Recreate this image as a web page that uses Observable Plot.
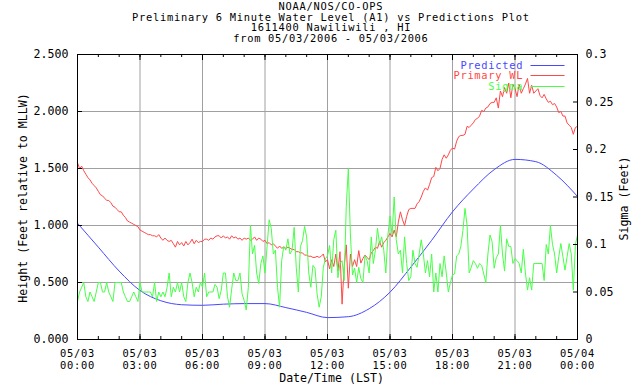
<!DOCTYPE html>
<html><head><meta charset="utf-8">
<script src="https://cdn.jsdelivr.net/npm/d3@7"></script>
<script src="https://cdn.jsdelivr.net/npm/@observablehq/plot@0.6"></script>
<style>body{margin:0;background:#fff}</style>
</head><body><div id="chart"></div>
<script>
const titleLines = ["NOAA/NOS/CO-OPS", "Preliminary 6 Minute Water Level (A1) vs Predictions Plot", "1611400 Nawiliwili , HI", "from 05/03/2006 - 05/03/2006"];
const yLabel = "Height (Feet relative to MLLW)";
const y2Label = "Sigma (Feet)";
const xLabel = "Date/Time (LST)";
const legendLabels = ["Predicted", "Primary WL", "Sigma"];
const legendColors = ["#4848ff", "#ff4848", "#48ff48"];

const heightTicks = [0, 0.5, 1, 1.5, 2, 2.5];
const sigmaTicks = [0, 0.05, 0.1, 0.15, 0.2, 0.25, 0.3];
const sigmaTickLabels = ["0", "0.05", "0.1", "0.15", "0.2", "0.25", "0.3"];
const xTickHours = [0, 3, 6, 9, 12, 15, 18, 21, 24];
const xMinorHours = [0,1,2,3,4,5,6,7,8,9,10,11,12,13,14,15,16,17,18,19,20,21,22,23,24];

// Predicted (hourly)
const predHours = [0,1,2,3,4,5,6,7,8,9,10,11,12,13,14,15,16,17,18,19,20,21,22,23,24];
const predicted = [1.02,0.81,0.60,0.43,0.34,0.305,0.30,0.31,0.315,0.315,0.28,0.238,0.192,0.20,0.27,0.415,0.635,0.87,1.12,1.32,1.49,1.58,1.56,1.44,1.255];

// Primary WL, 6-minute samples from 00:00 to 24:00
const waterLevel = [
1.55,1.50,1.52,1.48,1.45,1.42,1.40,1.37,1.35,1.33,
1.30,1.27,1.26,1.24,1.22,1.22,1.20,1.17,1.16,1.14,
1.12,1.12,1.09,1.07,1.04,1.03,1.02,1.01,1.00,0.99,
0.96,0.95,0.94,0.93,0.92,0.92,0.91,0.91,0.90,0.92,
0.89,0.87,0.89,0.87,0.86,0.87,0.84,0.81,0.86,0.83,
0.85,0.82,0.86,0.83,0.85,0.88,0.84,0.87,0.85,0.86,
0.86,
0.88,0.88,0.87,0.89,0.88,0.90,0.91,0.91,0.89,0.91,
0.89,0.90,0.88,0.91,0.89,0.90,0.88,0.89,0.87,0.89,
0.88,0.89,0.87,0.88,0.90,0.87,0.89,0.88,0.86,0.87,
0.84,0.85,0.83,0.84,0.82,0.80,0.82,0.80,0.81,0.80,
0.81,0.80,0.79,0.79,0.77,0.77,0.76,0.76,0.74,0.74,
0.73,0.73,0.72,0.72,0.73,0.72,0.73,0.75,0.68,0.70,
0.62,0.70,0.64,0.75,0.60,0.77,0.31,0.64,0.83,0.45,
0.75,0.64,0.70,0.64,0.78,0.67,0.71,0.74,0.72,0.70,
0.76,0.78,0.81,0.80,0.86,0.81,0.85,0.87,0.90,0.93,
0.90,0.96,0.90,1.03,1.12,1.05,1.00,1.08,1.14,1.15,
1.15,1.15,1.19,1.21,1.25,1.30,1.33,1.31,1.36,1.42,
1.43,1.51,1.48,1.50,1.58,1.62,1.59,1.62,1.66,1.68,
1.67,1.74,1.78,1.79,1.79,1.80,1.87,1.86,1.88,1.90,
1.93,1.94,1.96,2.01,2.00,2.03,2.04,2.07,2.08,2.08,
2.12,2.03,2.18,2.13,2.21,2.16,2.25,2.12,2.24,2.20,
2.13,2.24,2.16,2.20,2.24,2.29,2.16,2.23,2.16,2.18,
2.20,2.14,2.12,2.15,2.11,2.08,2.09,2.06,2.07,2.04,
1.99,2.00,1.96,1.96,1.90,1.88,1.86,1.80,1.86,1.87
];

// Sigma, 6-minute samples
const sigma = [
0.040,0.050,0.055,0.060,0.045,0.040,0.050,0.045,0.040,0.050,
0.060,0.060,0.050,0.050,0.060,0.050,0.045,0.040,0.060,0.060,
0.060,0.060,0.050,0.045,0.040,0.040,0.045,0.050,0.045,0.040,
0.060,0.050,0.050,0.050,0.050,0.050,0.045,0.060,0.040,0.050,
0.045,0.050,0.045,0.055,0.070,0.045,0.055,0.050,0.060,0.050,
0.060,0.045,0.040,0.060,0.070,0.060,0.045,0.055,0.050,0.060,
0.055,
0.070,0.045,0.050,0.050,0.050,0.058,0.055,0.043,0.052,0.070,
0.070,0.045,0.034,0.053,0.070,0.062,0.062,0.070,0.048,0.041,
0.031,0.055,0.120,0.090,0.099,0.070,0.059,0.080,0.088,0.070,
0.098,0.126,0.117,0.090,0.094,0.055,0.034,0.083,0.098,0.094,
0.106,0.090,0.094,0.118,0.076,0.050,0.098,0.104,0.119,0.108,
0.070,0.055,0.078,0.075,0.048,0.034,0.045,0.076,0.085,0.088,
0.099,0.070,0.105,0.115,0.065,0.080,0.083,0.062,0.140,0.180,
0.110,0.068,0.075,0.060,0.076,0.064,0.060,0.088,0.083,0.070,
0.108,0.080,0.094,0.117,0.100,0.108,0.094,0.070,0.110,0.130,
0.110,0.150,0.105,0.090,0.094,0.070,0.108,0.080,0.062,0.066,
0.094,0.080,0.076,0.090,0.105,0.090,0.070,0.083,0.066,0.090,
0.050,0.070,0.050,0.080,0.066,0.088,0.070,0.050,0.060,0.068,
0.069,0.088,0.090,0.098,0.115,0.138,0.120,0.070,0.076,0.083,
0.080,0.075,0.080,0.078,0.069,0.060,0.090,0.110,0.103,0.075,
0.086,0.090,0.120,0.090,0.072,0.106,0.098,0.098,0.080,0.085,
0.083,0.080,0.070,0.095,0.070,0.052,0.065,0.052,0.080,0.080,
0.080,0.080,0.080,0.062,0.100,0.090,0.120,0.100,0.090,0.070,
0.087,0.101,0.087,0.073,0.087,0.101,0.090,0.052,0.100,0.110
];

const W = 640, H = 384, mL = 77, mR = 63, mT = 54, mB = 45;
const innerW = W - mL - mR, innerH = H - mT - mB;
const RATIO = 2.5 / 0.3;
const t0 = Date.UTC(2006, 4, 3);
const at = h => new Date(t0 + h * 3600e3);
const STEP = 6 * 60 * 1000;
const FONT = "'DejaVu Sans Mono', monospace";
const FS = 11.6;
const SFS = 10.4;       // title / legend / date size (kept shorter than line spacing)
const SPACING = 0.72;   // letter spacing to keep a 7px character pitch
const legendDy = i => 10.7 + 10.65 * i;

const wlData = waterLevel.map((v, i) => ({t: new Date(t0 + i * STEP), v}));
const sigmaData = sigma.map((v, i) => ({t: new Date(t0 + i * STEP), v: v * RATIO}));
const predData = predicted.map((v, i) => ({t: at(predHours[i]), v}));
const majorX = xTickHours.map(at);
const minorX = xMinorHours.map(at);
const sigmaScaled = sigmaTicks.map(s => s * RATIO);
const fmtX = d3.utcFormat("%m/%d\n%H:%M");

const legendMarks = legendLabels.map((lab, i) =>
  Plot.text([lab], {frameAnchor: "top-right", text: d => d, textAnchor: "end", lineAnchor: "middle",
    dx: -54.3, dy: legendDy(i), fill: legendColors[i], fontSize: SFS})
);

const chart = Plot.plot({
  width: W, height: H,
  marginLeft: mL, marginRight: mR, marginTop: mT, marginBottom: mB,
  style: {fontFamily: FONT, fontSize: FS + "px", background: "#fff", color: "#000"},
  x: {type: "utc", domain: [at(0), at(24)]},
  y: {domain: [0, 2.5]},
  marks: [
    Plot.gridX(majorX, {stroke: "#a0a0a0", strokeOpacity: 1}),
    Plot.gridY(heightTicks.slice(1, -1), {stroke: "#a0a0a0", strokeOpacity: 1}),
    Plot.line(predData, {x: "t", y: "v", stroke: legendColors[0], strokeWidth: 1, curve: "monotone-x"}),
    Plot.line(wlData, {x: "t", y: "v", stroke: legendColors[1], strokeWidth: 1}),
    Plot.line(sigmaData, {x: "t", y: "v", stroke: legendColors[2], strokeWidth: 1}),
    Plot.frame({stroke: "#000"}),
    Plot.tickX(minorX, {x: d => d, stroke: "#000", insetTop: innerH - 3}),
    Plot.tickX(majorX, {x: d => d, stroke: "#000", insetTop: innerH - 5}),
    Plot.tickX(minorX, {x: d => d, stroke: "#000", insetBottom: innerH - 3}),
    Plot.tickX(majorX, {x: d => d, stroke: "#000", insetBottom: innerH - 6}),
    Plot.tickY(heightTicks, {y: d => d, stroke: "#000", insetRight: innerW - 5}),
    Plot.tickY(sigmaScaled, {y: d => d, stroke: "#000", insetLeft: innerW - 4}),
    Plot.axisX(majorX, {tickSize: 0, tickPadding: 8.4, tickFormat: fmtX, lineHeight: 1.17, label: null, fontSize: SFS}),
    Plot.axisY(heightTicks, {anchor: "left", tickSize: 0, tickPadding: 9, tickFormat: d3.format(".3f"), label: null, fontSize: FS}),
    Plot.axisY(sigmaScaled, {anchor: "right", tickSize: 0, tickPadding: 8,
      tickFormat: d => sigmaTickLabels[Math.round(d / RATIO / 0.05)], label: null, fontSize: FS}),
    ...titleLines.map((line, i) =>
      Plot.text([line], {frameAnchor: "top", text: d => d, textAnchor: "middle", lineAnchor: "middle",
        dx: 3.4, dy: -48 + 10.7 * i, fontSize: SFS})
    ),
    Plot.text([yLabel], {frameAnchor: "left", text: d => d, textAnchor: "middle", lineAnchor: "middle", rotate: -90, dx: -54.5, dy: 1, fontSize: FS}),
    Plot.text([y2Label], {frameAnchor: "right", text: d => d, textAnchor: "middle", lineAnchor: "middle", rotate: -90, dx: 47, dy: 1.5, fontSize: FS}),
    Plot.text([xLabel], {frameAnchor: "bottom", text: d => d, textAnchor: "middle", lineAnchor: "middle", dx: 4, dy: 39, fontSize: FS}),
    ...legendMarks
  ]
});

const svg = d3.select(chart);
// widen the smaller texts to the reference's character pitch
svg.selectAll("text")
  .filter(function() { return +this.getAttribute("font-size") === SFS || this.closest("g[font-size='" + SFS + "']"); })
  .attr("letter-spacing", SPACING);
// legend line samples
legendColors.forEach((c, i) => {
  const y = Math.round(mT + legendDy(i)) + 0.5;
  svg.append("line")
    .attr("x1", mL + innerW - 46.5).attr("x2", mL + innerW - 12.5)
    .attr("y1", y).attr("y2", y)
    .attr("stroke", c).attr("stroke-width", 1);
});
document.getElementById("chart").append(chart);
</script>
</body></html>
